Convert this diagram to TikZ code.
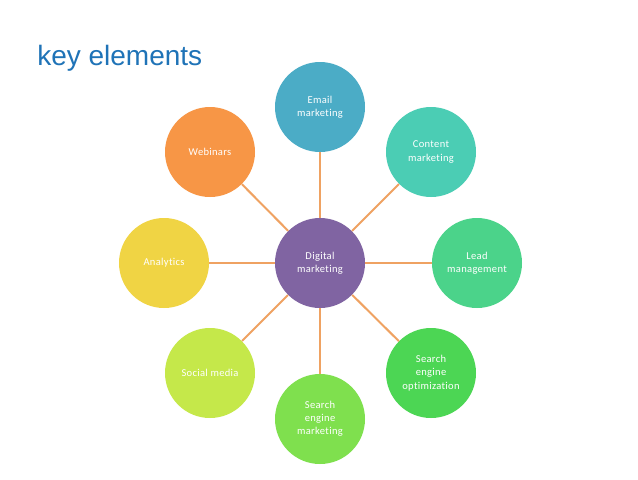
\documentclass[tikz,border=0pt]{standalone}
\usepackage{fontspec}
\setmainfont{Carlito}[LetterSpace=3,Ligatures=NoCommon]
\newfontfamily\titlefont{Liberation Sans}
\begin{document}
\begin{tikzpicture}[x=0.75pt,y=-0.75pt,
  bub/.style={circle, minimum size=90*0.75pt, inner sep=0pt, text=white,
    font=\fontsize{7.9pt}{9.9pt}\selectfont, align=center},
  link/.style={draw=lineor, line width=1.5pt}]
\definecolor{lineor}{HTML}{EFA262}
\definecolor{cpurple}{HTML}{8064A2}
\definecolor{cemail}{HTML}{4BACC6}
\definecolor{ccontent}{HTML}{4BCDB4}
\definecolor{clead}{HTML}{4BD38A}
\definecolor{cseo}{HTML}{4CD654}
\definecolor{csem}{HTML}{7FE04E}
\definecolor{csocial}{HTML}{C5E84A}
\definecolor{canalytics}{HTML}{F0D444}
\definecolor{cweb}{HTML}{F79646}
\definecolor{ctitle}{HTML}{1F73B7}
\useasboundingbox (0,0) rectangle (638,479);
\fill[white] (0,0) rectangle (638,479);
\node[anchor=base west, inner sep=0pt, text=ctitle, font=\titlefont\fontsize{21pt}{25pt}\selectfont] (title) at (37,65) {key elements};
\node[bub, fill=cpurple] (c) at (320,263) {Digital\\marketing};
\node[bub, fill=cemail] (e) at (320,107) {Email\\marketing};
\node[bub, fill=ccontent] (ct) at (431,152) {Content\\marketing};
\node[bub, fill=clead] (l) at (477,263) {Lead\\management};
\node[bub, fill=cseo] (seo) at (431,373) {Search\\engine\\optimization};
\node[bub, fill=csem] (sem) at (320,419) {Search\\engine\\marketing};
\node[bub, fill=csocial] (so) at (210,373) {Social media};
\node[bub, fill=canalytics] (a) at (164,263) {Analytics};
\node[bub, fill=cweb] (w) at (210,152) {Webinars};
\foreach \n in {e,ct,l,seo,sem,so,a,w}
  \draw[link] (c) -- (\n);
\end{tikzpicture}
\end{document}
